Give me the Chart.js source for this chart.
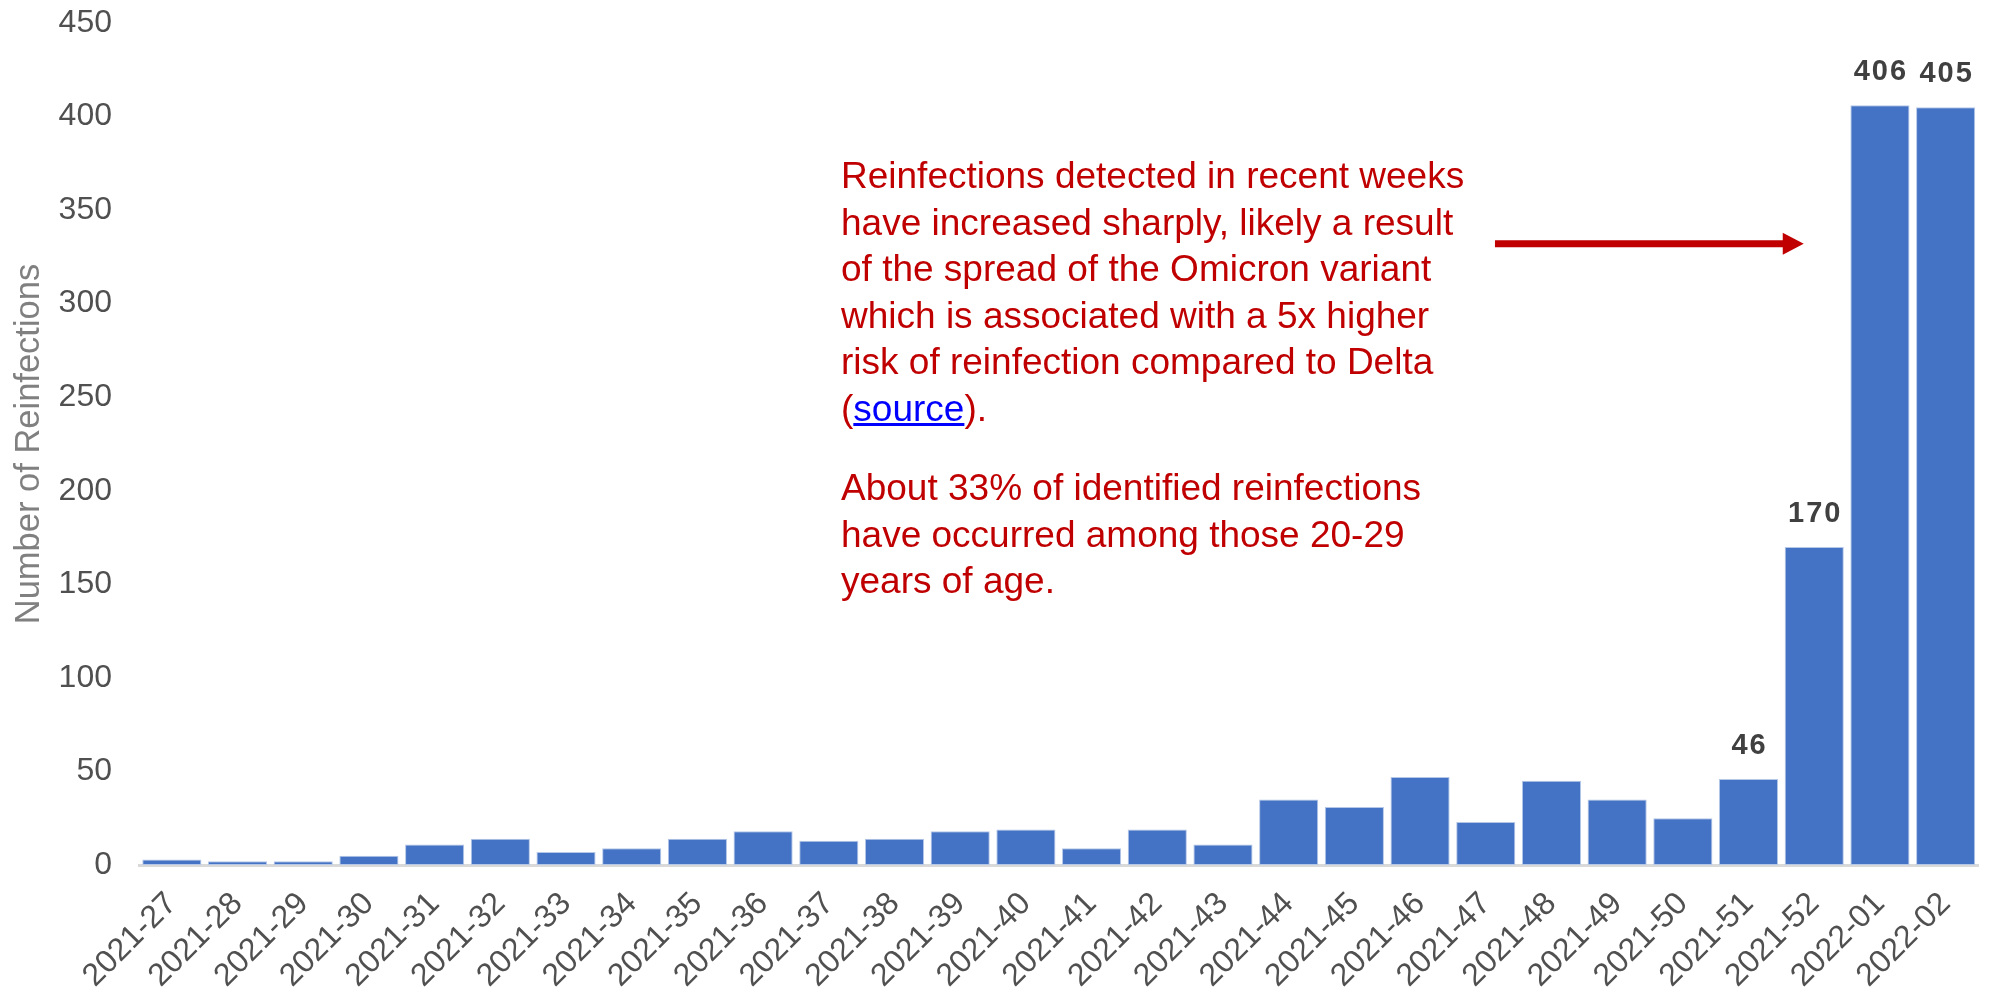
<!DOCTYPE html>
<html>
<head>
<meta charset="utf-8">
<title>Reinfecciones por semana</title>
<script src="https://cdn.jsdelivr.net/npm/chart.js@4.4.1/dist/chart.umd.min.js"></script>
<style>
  body { margin: 0; background: #fff; }
  #contenedor { position: relative; width: 1993px; height: 991px; }
  #nota {
    position: absolute; left: 841px; top: 153px;
    font-family: 'Liberation Sans', Arial, sans-serif; font-size: 37px;
    line-height: 46.5px; color: #c00000; white-space: nowrap;
  }
  #nota p { margin: 0; }
  #nota p + p { margin-top: 33px; }
  #nota a { color: #0000ff; text-decoration: underline; }
</style>
</head>
<body>
<div id="contenedor">
  <canvas id="grafico" width="1993" height="991"></canvas>
  <div id="nota"></div>
</div>
<script>
// datos
const semanas = ['2021-27', '2021-28', '2021-29', '2021-30', '2021-31', '2021-32', '2021-33',
  '2021-34', '2021-35', '2021-36', '2021-37', '2021-38', '2021-39', '2021-40', '2021-41',
  '2021-42', '2021-43', '2021-44', '2021-45', '2021-46', '2021-47', '2021-48', '2021-49',
  '2021-50', '2021-51', '2021-52', '2022-01', '2022-02'];
const reinfecciones = [3, 2, 2, 5, 11, 14, 7, 9, 14, 18, 13, 14, 18, 19, 9,
  19, 11, 35, 31, 47, 23, 45, 35, 25, 46, 170, 406, 405];
const semanasConEtiqueta = ['2021-51', '2021-52', '2022-01', '2022-02'];
const ejeYMax = 450;
const ejeYPaso = 50;

const notaParrafo1 = [
  'Reinfections detected in recent weeks',
  'have increased sharply, likely a result',
  'of the spread of the Omicron variant',
  'which is associated with a 5x higher',
  'risk of reinfection compared to Delta',
  '(<a href="#">source</a>).'
];
const notaParrafo2 = [
  'About 33% of identified reinfections',
  'have occurred among those 20-29',
  'years of age.'
];

const fuente = "'Liberation Sans', Arial, sans-serif";

// texto rojo a la derecha
document.getElementById('nota').innerHTML =
  '<p>' + notaParrafo1.join('<br>') + '</p><p>' + notaParrafo2.join('<br>') + '</p>';

// numeros encima de las ultimas barras
const pluginEtiquetas = {
  id: 'etiquetas',
  afterDatasetsDraw(chart) {
    const ctx = chart.ctx;
    const meta = chart.getDatasetMeta(0);
    ctx.save();
    ctx.font = 'bold 29px ' + fuente;
    ctx.letterSpacing = '2px';
    ctx.fillStyle = '#404040';
    ctx.textAlign = 'center';
    ctx.textBaseline = 'middle';
    semanas.forEach((s, i) => {
      if (!semanasConEtiqueta.includes(s)) return;
      const barra = meta.data[i];
      ctx.fillText(String(reinfecciones[i]), barra.x + 1, barra.y - 33);
    });
    ctx.restore();
  }
};

// flecha roja que apunta a las barras altas
const pluginFlecha = {
  id: 'flecha',
  afterDraw(chart) {
    const ctx = chart.ctx;
    const x = chart.scales.x;
    const y = chart.scales.y;
    const yf = y.getPixelForValue(332);
    const x1 = x.getPixelForValue(20.14);
    const x2 = x.getPixelForValue(24.84);
    ctx.save();
    ctx.strokeStyle = '#c00000';
    ctx.fillStyle = '#c00000';
    ctx.lineWidth = 7;
    ctx.beginPath();
    ctx.moveTo(x1, yf);
    ctx.lineTo(x2 - 18, yf);
    ctx.stroke();
    ctx.beginPath();
    ctx.moveTo(x2, yf);
    ctx.lineTo(x2 - 21, yf - 11);
    ctx.lineTo(x2 - 21, yf + 11);
    ctx.closePath();
    ctx.fill();
    ctx.restore();
  }
};

const ctx = document.getElementById('grafico');
window.chart = new Chart(ctx.getContext('2d'), {
  type: 'bar',
  data: {
    labels: semanas,
    datasets: [{
      label: 'Number of Reinfections',
      data: reinfecciones,
      backgroundColor: '#4472c4',
      borderColor: '#b4c7e7',
      borderWidth: 1,
      borderSkipped: false,
      barPercentage: 0.9,
      categoryPercentage: 1
    }]
  },
  options: {
    responsive: false,
    animation: false,
    devicePixelRatio: 1,
    layout: { padding: { top: 23, right: 12, left: 0, bottom: 0 } },
    plugins: {
      legend: { display: false },
      tooltip: { enabled: false }
    },
    scales: {
      x: {
        grid: { display: false, drawTicks: false },
        border: { display: true, color: '#d9d9d9', width: 3 },
        ticks: {
          color: '#505050',
          font: { family: fuente, size: 32 },
          minRotation: 45,
          maxRotation: 45,
          autoSkip: false,
          padding: 20
        },
        afterFit(scale) { scale.height = 126; }
      },
      y: {
        min: 0,
        max: ejeYMax,
        // la separacion de las etiquetas va en tickLength para no empujar el area hacia abajo
        grid: { display: false, drawTicks: true, tickLength: 27 },
        border: { display: false },
        ticks: {
          stepSize: ejeYPaso,
          color: '#505050',
          font: { family: fuente, size: 32 },
          padding: 0
        },
        title: {
          display: true,
          text: 'Number of Reinfections',
          color: '#808080',
          font: { family: fuente, size: 34.5 },
          padding: { top: 9, bottom: 0 }
        },
        afterFit(scale) { scale.width = 139; }
      }
    }
  },
  plugins: [pluginEtiquetas, pluginFlecha]
});
</script>
</body>
</html>
